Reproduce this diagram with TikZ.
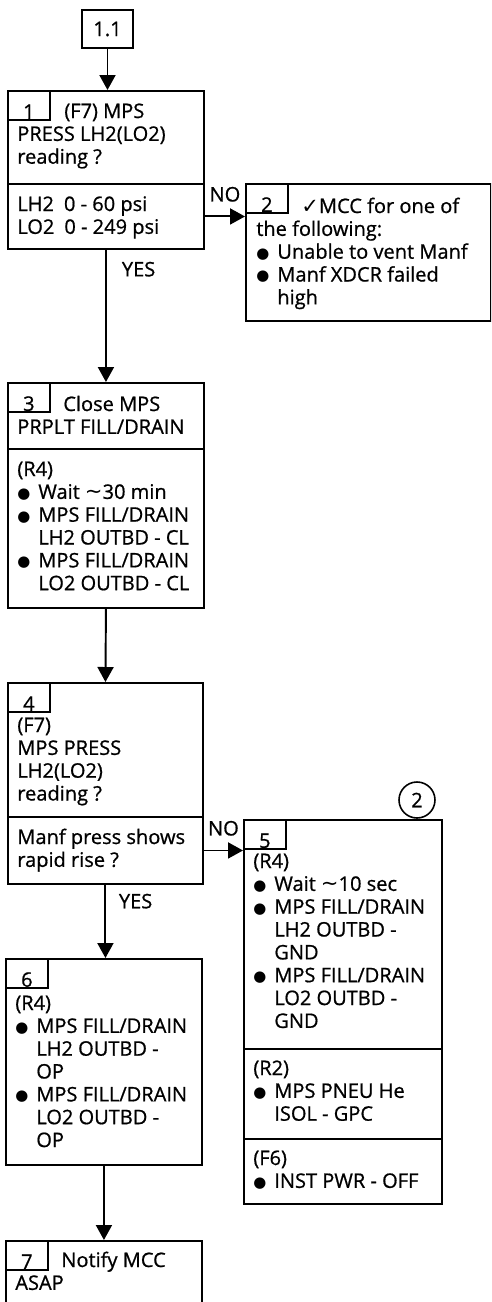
\documentclass[tikz,border=0pt]{standalone}
\usepackage{fontspec}
\setmainfont{Open Sans}[FakeBold=0.8]
\newfontfamily\symfont{DejaVu Sans}
\usetikzlibrary{arrows.meta}

\newcommand\textlines[1]{\begin{tabular}[t]{@{}l@{}}#1\end{tabular}}
\newcommand\bul{\makebox[0.42cm][l]{\symfont\fontsize{8.5}{8}\selectfont\raisebox{0.3pt}{●}}}
\newcommand\ind{\hspace*{0.42cm}}
\newcommand\tld{{\symfont\fontsize{12}{13}\selectfont ∼}}

\begin{document}
\begin{tikzpicture}[x=0.02cm, y=-0.02cm,
    every node/.style={font=\fontsize{11.4}{13}\selectfont},
    box/.style={draw, line width=1.1pt, anchor=north west, inner sep=0},
    tab/.style={draw, line width=1pt, anchor=north west, inner sep=0,
                minimum width=0.84cm, minimum height=0.58cm},
    num/.style={anchor=base, inner sep=0, yshift=0.04cm},
    txt/.style={anchor=base west, inner sep=0},
    flow/.style={line width=1.1pt, -{Triangle[length=0.3cm,width=0.32cm]}}]
\path[use as bounding box] (0,0) rectangle (491,1302);
\clip (0,0) rectangle (491,1302);

% boxes
\node[box, anchor=center, minimum width=1.02cm, minimum height=0.76cm] (start) at (107.5,29) {1.1};
\node[box, minimum width=3.92cm, minimum height=1.86cm] (b1) at (7,90) {};
\node[box, minimum width=3.92cm, minimum height=1.30cm] (b1q) at (7,183) {};
\node[box, minimum width=4.90cm, minimum height=2.74cm] (b2) at (245,183) {};
\node[box, minimum width=3.92cm, minimum height=1.32cm] (b3) at (7,382) {};
\node[box, minimum width=3.92cm, minimum height=3.18cm] (b3a) at (7,448) {};
\node[box, minimum width=3.90cm, minimum height=2.68cm] (b4) at (7,682) {};
\node[box, minimum width=3.90cm, minimum height=1.34cm] (b4q) at (7,816) {};
\node[box, minimum width=3.96cm, minimum height=4.58cm] (b5) at (243,819) {};
\node[box, minimum width=3.96cm, minimum height=1.80cm] (b5b) at (243,1048) {};
\node[box, minimum width=3.96cm, minimum height=1.30cm] (b5c) at (243,1138) {};
\node[box, minimum width=3.92cm, minimum height=4.12cm] (b6) at (5,958) {};
\node[box, minimum width=3.92cm, minimum height=2.00cm] (b7) at (5,1240) {};

% number tabs
\node[tab] (n1) at (b1.north west) {};
\node[tab] (n2) at (b2.north west) {};
\node[tab] (n3) at (b3.north west) {};
\node[tab] (n4) at (b4.north west) {};
\node[tab] (n5) at (b5.north west) {};
\node[tab] (n6) at (b6.north west) {};
\node[tab] (n7) at (b7.north west) {};
\node[num] (l1) at (n1.south) {1};
\node[num] (l2) at (n2.south) {2};
\node[num] (l3) at (n3.south) {3};
\node[num] (l4) at (n4.south) {4};
\node[num] (l5) at (n5.south) {5};
\node[num] (l6) at (n6.south) {6};
\node[num] (l7) at (n7.south) {7};
\node[draw, circle, line width=0.9pt, minimum size=0.72cm, inner sep=0] (c2) at (417,800) {2};

% texts
\node[txt] (t1) at (17,118) {\textlines{\hspace*{0.94cm}(F7) MPS\\ PRESS LH2(LO2)\\ reading ?}};
\node[txt] (t1q) at (17,211) {\textlines{LH2\enspace 0 - 60 psi\\ LO2\enspace 0 - 249 psi}};
\node[txt] (t2) at (256,213) {\textlines{\hspace*{0.9cm}{\symfont\fontsize{12}{13}\selectfont ✓}MCC for one of\\ the following:\\
  \bul Unable to vent Manf\\ \bul Manf XDCR failed\\ \ind high}};
\node[txt] (t3) at (17,411) {\textlines{\hspace*{0.92cm}Close MPS\\ PRPLT FILL/DRAIN}};
\node[txt] (t3a) at (17,476) {\textlines{(R4)\\ \bul Wait \tld30 min\\ \bul MPS FILL/DRAIN\\ \ind LH2 OUTBD - CL\\
  \bul MPS FILL/DRAIN\\ \ind LO2 OUTBD - CL}};
\node[txt] (t4) at (17,732) {\textlines{(F7)\\ MPS PRESS\\ LH2(LO2)\\ reading ?}};
\node[txt] (t4q) at (17,844) {\textlines{Manf press shows\\ rapid rise ?}};
\node[txt] (t5) at (253,868) {\textlines{(R4)\\ \bul Wait \tld10 sec\\ \bul MPS FILL/DRAIN\\ \ind LH2 OUTBD -\\ \ind GND\\
  \bul MPS FILL/DRAIN\\ \ind LO2 OUTBD -\\ \ind GND}};
\node[txt] (t5b) at (253,1075) {\textlines{(R2)\\ \bul MPS PNEU He\\ \ind ISOL - GPC}};
\node[txt] (t5c) at (253,1165) {\textlines{(F6)\\ \bul INST PWR - OFF}};
\node[txt] (t6) at (15,1010) {\textlines{(R4)\\ \bul MPS FILL/DRAIN\\ \ind LH2 OUTBD -\\ \ind OP\\
  \bul MPS FILL/DRAIN\\ \ind LO2 OUTBD -\\ \ind OP}};
\node[txt] (t7) at (15,1267) {\textlines{\hspace*{0.92cm}Notify MCC\\ ASAP}};

% connectors
\draw[flow] (start.south) -- (start.south |- b1.north);
\draw[flow] (b1q.east) -- (b1q.east -| b2.west)
  node[midway, anchor=base, inner sep=0, yshift=0.3cm] (no1) {NO};
\draw[flow] (b1q.south) -- (b3.north)
  node[pos=0.2, anchor=base west, inner sep=0, xshift=0.3cm] (yes1) {YES};
\draw[flow] (b3a.south) -- (b4.north);
\draw[flow] (b4q.east) -- (b4q.east -| b5.west)
  node[midway, anchor=base, inner sep=0, yshift=0.3cm] (no2) {NO};
\draw[flow] (b4q.south) -- (b4q.south |- b6.north)
  node[pos=0.32, anchor=base west, inner sep=0, xshift=0.25cm] (yes2) {YES};
\draw[flow] (b6.south) -- (b7.north);

\end{tikzpicture}
\end{document}
